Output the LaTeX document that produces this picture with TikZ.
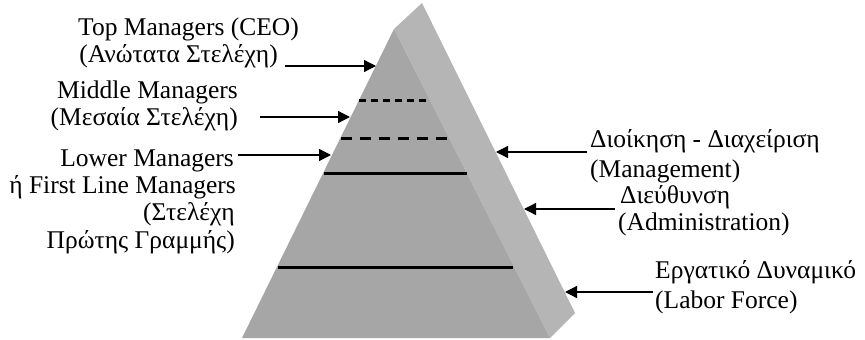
\documentclass[tikz,border=0pt]{standalone}
\usepackage{fontspec}
\setmainfont{Liberation Serif}
\usetikzlibrary{arrows.meta}
\definecolor{frontface}{RGB}{166,166,166}
\definecolor{sideface}{RGB}{181,181,181}
\begin{document}
\begin{tikzpicture}[x=1pt,y=-1pt,
  lbl/.style={inner sep=0pt, font=\fontsize{25.5}{27}\selectfont},
  lft/.style={lbl, anchor=base east},
  rgt/.style={lbl, anchor=base west},
  arr/.style={line width=1.3pt, -{Triangle[length=12pt,width=12pt]}},
  band/.style={line width=3pt},
]
\useasboundingbox (0,0) rectangle (865,340);
% pyramid
\coordinate (apex) at (394,29);
\coordinate (bl) at (242,338);
\coordinate (br) at (550,338);
\coordinate (sTop) at (422,3);
\coordinate (sBot) at (575,313);
\fill[sideface] (apex) -- (sTop) -- (sBot) -- (br) -- cycle;
\fill[frontface] (apex) -- (bl) -- (br) -- cycle;
% bands
\coordinate (l1a) at (359,100); \coordinate (l1b) at (430,100);
\coordinate (l2a) at (341,138); \coordinate (l2b) at (448,138);
\coordinate (l3a) at (324,173); \coordinate (l3b) at (467,173);
\coordinate (l4a) at (278,267); \coordinate (l4b) at (513,267);
\draw[band, dash pattern=on 7pt off 5pt] (l1a) -- (l1b);
\draw[band, dash pattern=on 11pt off 8pt] (l2a) -- (l2b);
\draw[band] (l3a) -- (l3b);
\draw[band] (l4a) -- (l4b);
% left labels
\node[lft] (top1) at (299,35) {Top Managers (CEO)};
\node[lft] (top2) at (278,62) {(Ανώτατα Στελέχη)};
\node[lft] (mid1) at (238,98) {Middle Managers};
\node[lft] (mid2) at (238,125) {(Μεσαία Στελέχη)};
\node[lft] (low1) at (234,166) {Lower Managers};
\node[lft] (low2) at (236,193) {ή First Line Managers};
\node[lft] (low3) at (235,220) {(Στελέχη};
\node[lft] (low4) at (235,248) {Πρώτης Γραμμής)};
% right labels
\node[rgt] (man1) at (590,147) {Διοίκηση - Διαχείριση};
\node[rgt] (man2) at (590,177) {(Management)};
\node[rgt] (adm1) at (620,203) {Διεύθυνση};
\node[rgt] (adm2) at (618,230) {(Administration)};
\node[rgt] (lab1) at (655,278) {Εργατικό Δυναμικό};
\node[rgt] (lab2) at (655,308) {(Labor Force)};
% arrow ends
\coordinate (aTs) at (285,66);  \coordinate (aTe) at (376,66);
\coordinate (aMs) at (260,117); \coordinate (aMe) at (350,117);
\coordinate (aLs) at (238,155); \coordinate (aLe) at (331,155);
\coordinate (bMs) at (587,152); \coordinate (bMe) at (496,152);
\coordinate (bAs) at (615,209); \coordinate (bAe) at (524,209);
\coordinate (bLs) at (653,292); \coordinate (bLe) at (565,292);
\draw[arr] (aTs) -- (aTe);
\draw[arr] (aMs) -- (aMe);
\draw[arr] (aLs) -- (aLe);
\draw[arr] (bMs) -- (bMe);
\draw[arr] (bAs) -- (bAe);
\draw[arr] (bLs) -- (bLe);
\end{tikzpicture}
\end{document}
